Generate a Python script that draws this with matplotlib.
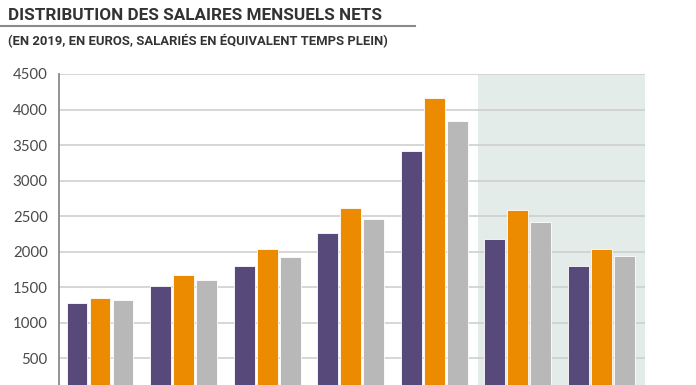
import matplotlib.pyplot as plt
import numpy as np

# categories (x labels are cropped in the reference, not shown)
categories = ["D1", "Q1", "Médiane", "Q3", "D9", "Moyenne", "Médiane 2"]
series_names = ["Série 1", "Série 2", "Série 3"]
serie1 = [1280, 1518, 1795, 2263, 3410, 2174, 1795]
serie2 = [1355, 1668, 2043, 2614, 4164, 2590, 2038]
serie3 = [1317, 1598, 1931, 2459, 3845, 2415, 1940]
yticks = [500, 1000, 1500, 2000, 2500, 3000, 3500, 4000, 4500]

colors = ["#574a7a", "#ec8b00", "#b8b8b8"]

fig = plt.figure(figsize=(6.96, 3.85), dpi=100)
ax = fig.add_axes([59 / 696, -0.0229, (645 - 59) / 696, 0.8307])

x = np.arange(len(categories))
step = 0.275
width = 0.25
for k, (vals, c) in enumerate(zip([serie1, serie2, serie3], colors)):
    ax.bar(x + (k - 1) * step, vals, width, color=c, edgecolor="white",
           linewidth=0.6, zorder=3, label=series_names[k])

# shaded zone behind the last two groups
ax.axvspan(4.52, 6.52, color="#e3ece9", zorder=0, lw=0)

ax.set_xlim(-0.49, 6.52)
ax.set_ylim(0, 4500)
ax.set_yticks(yticks)
ax.set_yticklabels([str(v) for v in yticks], fontsize=10.8, color="#4a4a4a",
                   family="Lato")
ax.tick_params(axis="y", length=0, pad=8)
ax.set_xticks([])
ax.grid(axis="y", color="#cfcfcf", linewidth=1.2, zorder=1)
for s in ["top", "right", "bottom"]:
    ax.spines[s].set_visible(False)
ax.spines["left"].set_color("#8a8a8a")
ax.spines["left"].set_linewidth(1.3)
ax.spines["left"].set_zorder(4)

# titles
fig.text(8 / 696, 1 - 16 / 385, "DISTRIBUTION DES SALAIRES MENSUELS NETS",
         fontsize=12.3, fontweight="bold", color="#333333", va="center",
         family="Roboto")
fig.add_artist(plt.Line2D([0, 415 / 696], [1 - 26 / 385, 1 - 26 / 385],
                          color="#8a8a8a", linewidth=1.5))
fig.text(8 / 696, 1 - 41 / 385,
         "(EN 2019, EN EUROS, SALARIÉS EN ÉQUIVALENT TEMPS PLEIN)",
         fontsize=9.4, fontweight="bold", color="#333333", va="center",
         family="Roboto")

fig.savefig("out.png", dpi=100)
